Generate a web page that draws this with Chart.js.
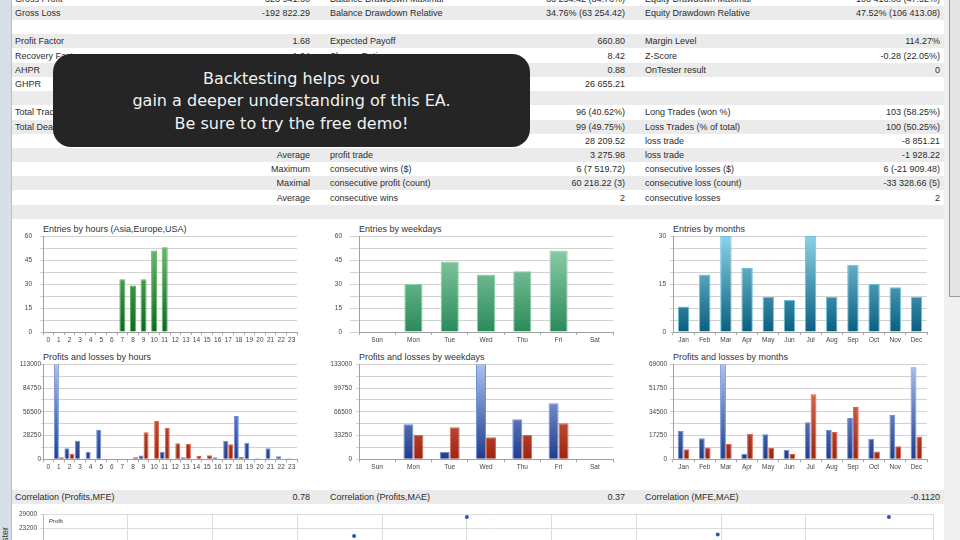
<!DOCTYPE html>
<html>
<head>
<meta charset="utf-8">
<script src="https://cdn.jsdelivr.net/npm/chart.js@4.4.0/dist/chart.umd.min.js"></script>
<style>
html, body { margin: 0; padding: 0; }
body { width: 960px; height: 540px; overflow: hidden; position: relative; background: #fff;
  font-family: "Liberation Sans", Arial, sans-serif; color: #2b2b2b; }
.strip { position: absolute; left: 0; top: 0; width: 11px; height: 540px; background: #d6dee8; border-right: 1px solid #b3bfcd; }
.tab { position: absolute; left: 1px; top: 627px; width: 100px; text-align: right; font-size: 9px; line-height: 9px;
  transform: rotate(-90deg); transform-origin: 0 0; color: #333; }
.track { position: absolute; left: 944px; top: 0; width: 16px; height: 540px; background: #f0f0f0; }
.thumb { position: absolute; left: 949px; top: 0; width: 11px; height: 296px; background: #e4e4e4; border-left: 1px solid #9c9c9c; border-bottom: 1px solid #9c9c9c; }
.row { position: absolute; left: 12px; width: 932px; height: 14.2px; font-size: 9px; line-height: 14.2px; }
.row.g { background: #ebebeb; }
.row span { position: absolute; top: 0; white-space: nowrap; }
.c1 { left: 3px; } .c2 { right: 634px; } .c3 { left: 318px; } .c4 { right: 319px; } .c5 { left: 633px; } .c6 { right: 4px; }
.ttl { position: absolute; font-size: 9px; color: #333; white-space: nowrap; line-height: 10px; }
canvas { position: absolute; }
.overlay { position: absolute; left: 53px; top: 54px; width: 477px; height: 93px; border-radius: 18px; background: #252525;
  color: #f2f2f2; font-family: "DejaVu Sans", sans-serif; font-size: 16px; line-height: 22.5px; text-align: center;
  box-sizing: border-box; padding-top: 13.5px; }
.plabel { position: absolute; left: 49px; top: 518px; font-size: 6px; color: #333; }
</style>
</head>
<body>
<div class="strip"></div>
<div class="tab">Strategy Tester</div>
<div class="track"></div>
<div class="thumb"></div>
<div id="table"></div>

<div class="ttl" style="left:43px;top:224px">Entries by hours (Asia,Europe,USA)</div>
<div class="ttl" style="left:359px;top:224px">Entries by weekdays</div>
<div class="ttl" style="left:673px;top:224px">Entries by months</div>
<div class="ttl" style="left:43px;top:352px">Profits and losses by hours</div>
<div class="ttl" style="left:359px;top:352px">Profits and losses by weekdays</div>
<div class="ttl" style="left:673px;top:352px">Profits and losses by months</div>

<canvas id="eHours"></canvas>
<canvas id="eDays"></canvas>
<canvas id="eMonths"></canvas>
<canvas id="pHours"></canvas>
<canvas id="pDays"></canvas>
<canvas id="pMonths"></canvas>
<canvas id="scatter"></canvas>
<div class="plabel">Profit</div>

<div class="overlay">Backtesting helps you<br>gain a deeper understanding of this EA.<br>Be sure to try the free demo!</div>

<script>
// report rows: [label, value, label, value, label, value]
var reportRows = [
  ['Gross Profit', '323 941.60', 'Balance Drawdown Maximal', '63 254.42 (34.76%)', 'Equity Drawdown Maximal', '106 413.08 (47.52%)'],
  ['Gross Loss', '-192 822.29', 'Balance Drawdown Relative', '34.76% (63 254.42)', 'Equity Drawdown Relative', '47.52% (106 413.08)'],
  ['', '', '', '', '', ''],
  ['Profit Factor', '1.68', 'Expected Payoff', '660.80', 'Margin Level', '114.27%'],
  ['Recovery Factor', '1.24', 'Sharpe Ratio', '8.42', 'Z-Score', '-0.28 (22.05%)'],
  ['AHPR', '1.0100 (1.00%)', 'LR Correlation', '0.88', 'OnTester result', '0'],
  ['GHPR', '1.0090 (0.90%)', 'LR Standard Error', '26 655.21', '', ''],
  ['', '', '', '', '', ''],
  ['Total Trades', '199', 'Short Trades (won %)', '96 (40.62%)', 'Long Trades (won %)', '103 (58.25%)'],
  ['Total Deals', '398', 'Profit Trades (% of total)', '99 (49.75%)', 'Loss Trades (% of total)', '100 (50.25%)'],
  ['', 'Largest', 'profit trade', '28 209.52', 'loss trade', '-8 851.21'],
  ['', 'Average', 'profit trade', '3 275.98', 'loss trade', '-1 928.22'],
  ['', 'Maximum', 'consecutive wins ($)', '6 (7 519.72)', 'consecutive losses ($)', '6 (-21 909.48)'],
  ['', 'Maximal', 'consecutive profit (count)', '60 218.22 (3)', 'consecutive loss (count)', '-33 328.66 (5)'],
  ['', 'Average', 'consecutive wins', '2', 'consecutive losses', '2'],
  ['', '', '', '', '', '']
];
var correlationRow = ['Correlation (Profits,MFE)', '0.78', 'Correlation (Profits,MAE)', '0.37', 'Correlation (MFE,MAE)', '-0.1120'];

var hourLabels = ['0','1','2','3','4','5','6','7','8','9','10','11','12','13','14','15','16','17','18','19','20','21','22','23'];
var dayLabels = ['Sun','Mon','Tue','Wed','Thu','Fri','Sat'];
var monthLabels = ['Jan','Feb','Mar','Apr','May','Jun','Jul','Aug','Sep','Oct','Nov','Dec'];

var entriesByHour = [0,0,0,0,0,0,0,33,29,33,51,53,0,0,0,0,0,0,0,0,0,0,0,0];
var entriesByDay = [0,30,44,36,38,51,0];
var entriesByMonth = [8,18,30,20,11,10,30,11,21,15,14,11];

var profitByHour = [0,113000,13000,22200,9100,34900,0,0,0,4400,0,8700,0,2400,0,0,2400,22200,51500,19800,1200,13000,3600,1200];
var lossByHour = [0,2400,6700,0,0,0,0,0,2400,32100,45600,37300,19000,18200,4000,4800,1000,17800,2800,0,0,0,0,0];
var profitByDay = [0,49000,10300,133000,56000,78400,0];
var lossByDay = [0,34100,44800,30800,34100,50400,0];
var profitByMonth = [20600,15300,69000,4100,18200,7000,26900,21300,30000,15000,32200,66800];
var lossByMonth = [7300,8500,11100,18600,8200,3900,47200,19900,38000,5600,9400,16500];

var scatterX = [3.67, 5.0, 7.96, 9.98];
var scatterY = [20200, 27800, 20800, 27800];

// table
function addRow(cells, top, gray, h) {
  var row = document.createElement('div');
  row.className = 'row' + (gray ? ' g' : '');
  row.style.top = top + 'px';
  if (h) { row.style.height = h + 'px'; row.style.lineHeight = h + 'px'; }
  cells.forEach(function(t, i) {
    var s = document.createElement('span');
    s.className = 'c' + (i + 1);
    s.textContent = t;
    row.appendChild(s);
  });
  document.getElementById('table').appendChild(row);
}
reportRows.forEach(function(r, i) { addRow(r, -8.3 + i * 14.2, i % 2 == 1); });
addRow(correlationRow, 490, true, 14);

var tickFont = { family: '"Liberation Sans", Arial, sans-serif', size: 6.5 };

function place(id, x, y, w, h) {
  var c = document.getElementById(id);
  c.style.left = x + 'px';
  c.style.top = y + 'px';
  c.width = w;
  c.height = h;
  return c;
}

function grad(top, bottom) {
  return function(ctx) {
    var a = ctx.chart.chartArea;
    if (!a) return bottom;
    var g = ctx.chart.ctx.createLinearGradient(0, a.top, 0, a.bottom);
    g.addColorStop(0, top);
    g.addColorStop(1, bottom);
    return g;
  };
}

function barChart(id, box, area, labels, datasets, yMax, yStep, labelStep, catPct, yPad, tickLen) {
  var canvas = place(id, box[0], box[1], box[2], box[3]);
  return new Chart(canvas, {
    type: 'bar',
    data: { labels: labels, datasets: datasets },
    options: {
      responsive: false,
      animation: false,
      categoryPercentage: catPct,
      layout: { padding: { top: area[1] - box[1], right: box[0] + box[2] - area[2], left: 0, bottom: 0 } },
      plugins: { legend: { display: false }, tooltip: { enabled: false } },
      scales: {
        x: {
          grid: { offset: true, drawOnChartArea: false, tickLength: 3, color: '#a8a8a8' },
          border: { color: '#a0a0a0' },
          ticks: { font: tickFont, color: '#444', padding: 1, autoSkip: false, maxRotation: 0 },
          afterFit: function(s) { s.height = box[1] + box[3] - area[3]; }
        },
        y: {
          min: 0, max: yMax,
          grid: { color: '#d2d2d2', tickLength: tickLen || 3 },
          border: { color: '#a0a0a0' },
          ticks: {
            stepSize: yStep, font: tickFont, color: '#444', padding: yPad,
            callback: function(v) { return Math.abs(v % labelStep) < 1e-6 ? String(v) : ''; }
          },
          afterFit: function(s) { s.width = area[0] - box[0]; }
        }
      }
    }
  });
}

function entrySet(values, top, bottom, edge, pct) {
  return [{
    data: values,
    backgroundColor: grad(top, bottom),
    borderColor: edge,
    borderWidth: function(ctx) { return ctx.raw ? 1 : 0; },
    barPercentage: pct
  }];
}

function plSets(profit, loss) {
  return [
    { data: profit, backgroundColor: grad('#a9c0ee', '#1f3c8c'), borderColor: '#6f8fd6',
      borderWidth: function(ctx) { return ctx.raw ? 1 : 0; }, barPercentage: 1 },
    { data: loss, backgroundColor: grad('#ec8468', '#9e2412'), borderColor: '#d8664a',
      borderWidth: function(ctx) { return ctx.raw ? 1 : 0; }, barPercentage: 1 }
  ];
}

barChart('eHours', [0, 220, 310, 125], [43, 236, 297, 332], hourLabels,
  entrySet(entriesByHour, '#74c474', '#0a6a1e', '#5db45d', 0.57), 60, 7.5, 15, 1, 8, 3);
barChart('eDays', [320, 220, 310, 125], [359, 236, 613, 332], dayLabels,
  entrySet(entriesByDay, '#9ad6b3', '#2a8a5a', '#86ceA6', 0.5), 60, 7.5, 15, 1, 8, 9);
barChart('eMonths', [630, 220, 310, 125], [673, 236, 927, 332], monthLabels,
  entrySet(entriesByMonth, '#8ad2e6', '#0a5f7f', '#6cc0dc', 0.54), 30, 3.75, 15, 1, 4, 3);

barChart('pHours', [0, 350, 310, 125], [43, 364.3, 297, 459.3], hourLabels,
  plSets(profitByHour, lossByHour), 113000, 14125, 28250, 0.95, 0, 2);
barChart('pDays', [320, 350, 310, 125], [359, 364.3, 613, 459.3], dayLabels,
  plSets(profitByDay, lossByDay), 133000, 16625, 33250, 0.55, 4, 3);
barChart('pMonths', [630, 350, 310, 125], [673, 364.3, 927, 459.3], monthLabels,
  plSets(profitByMonth, lossByMonth), 69000, 8625, 17250, 0.55, 3, 3);

// profit scatter, mostly below the visible window
var sc = place('scatter', 0, 505, 944, 110);
var scBox = [0, 505, 944, 110], scArea = [43, 514, 933, 586.5];
new Chart(sc, {
  type: 'scatter',
  data: { datasets: [{
    data: scatterX.map(function(x, i) { return { x: x, y: scatterY[i] }; }),
    pointRadius: 2, pointBackgroundColor: '#3452b4', pointBorderWidth: 0
  }] },
  options: {
    responsive: false,
    animation: false,
    layout: { padding: { top: scArea[1] - scBox[1], right: scBox[0] + scBox[2] - scArea[2], left: 0, bottom: 0 } },
    plugins: { legend: { display: false }, tooltip: { enabled: false } },
    scales: {
      x: {
        min: 0, max: 10.5,
        grid: { color: '#dcdcdc', drawTicks: false },
        border: { color: '#b8b8b8' },
        ticks: { stepSize: 1, display: false },
        afterFit: function(s) { s.height = scBox[1] + scBox[3] - scArea[3]; }
      },
      y: {
        min: 0, max: 29000,
        grid: { color: '#dcdcdc', tickLength: 3 },
        border: { color: '#b8b8b8' },
        ticks: { stepSize: 5800, font: tickFont, color: '#444', padding: 3,
          callback: function(v) { return String(v); } },
        afterFit: function(s) { s.width = scArea[0] - scBox[0]; }
      }
    }
  }
});
</script>
</body>
</html>
